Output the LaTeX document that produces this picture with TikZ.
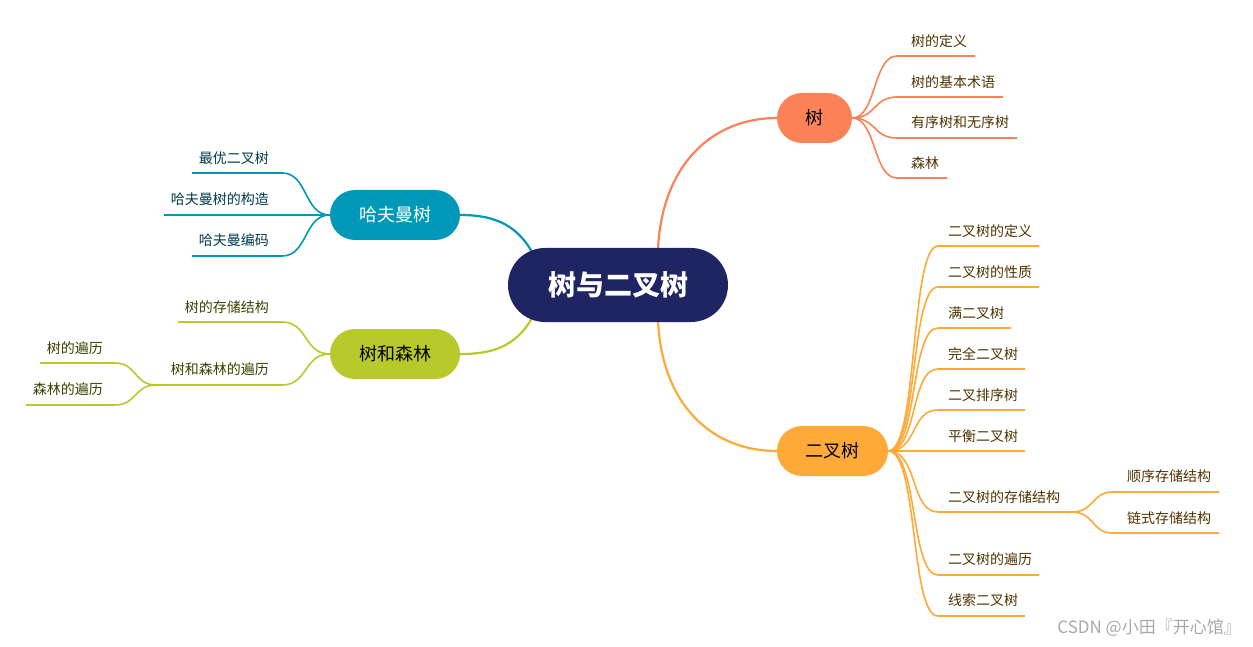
\documentclass[tikz,border=0pt]{standalone}
\usepackage{fontspec}
\newfontfamily\cjk{Noto Sans CJK SC}
\usetikzlibrary{backgrounds}
\definecolor{cHub}{HTML}{1F2463}
\definecolor{cTree}{HTML}{FA8256}
\definecolor{cBin}{HTML}{FFAA38}
\definecolor{cHuf}{HTML}{0098B8}
\definecolor{cFor}{HTML}{B7C92B}
\definecolor{tOr}{HTML}{4E3300}
\definecolor{tBl}{HTML}{003A4A}
\definecolor{tGr}{HTML}{3A4000}
\definecolor{cMark}{HTML}{A8A8A8}
\tikzset{
  hub/.style={fill=cHub, text=white, rounded corners=37pt, minimum width=220pt, minimum height=74pt, inner sep=0pt, font=\cjk\bfseries\fontsize{28}{30}\selectfont},
  topic/.style={rounded corners=25pt, minimum height=50pt, inner sep=0pt, font=\cjk\fontsize{18}{20}\selectfont},
  lfr/.style={anchor=west, inner sep=0pt, font=\cjk\fontsize{14}{16}\selectfont},
  lfl/.style={anchor=east, inner sep=0pt, font=\cjk\fontsize{14}{16}\selectfont},
  mainline/.style={line width=2.2pt},
  leafline/.style={line width=1.6pt},
}
\begin{document}
\begin{tikzpicture}[x=1pt,y=-1pt]
\useasboundingbox (0,0) rectangle (1253,647);
% nodes
\node[hub] (c) at (618,285) {树与二叉树};
\node[topic, fill=cTree, minimum width=75pt] (t) at (814.5,118) {树};
\node[topic, fill=cBin, minimum width=111pt] (b) at (832.5,451) {二叉树};
\node[topic, fill=cHuf, text=white, minimum width=130pt] (h) at (395,215) {哈夫曼树};
\node[topic, fill=cFor, minimum width=130pt] (f) at (395,354) {树和森林};
% hub ends
\coordinate (cT) at (658,249);
\coordinate (cB) at (658,321);
\coordinate (cH) at (532,252);
\coordinate (cF) at (532,318);
% tree leaves
\node[lfr, text=tOr] (t1) at (911,41) {树的定义};
\node[lfr, text=tOr] (t2) at (911,82) {树的基本术语};
\node[lfr, text=tOr] (t3) at (911,122) {有序树和无序树};
\node[lfr, text=tOr] (t4) at (911,163) {森林};
\coordinate (t1s) at (897,56); \coordinate (t1e) at (975,56);
\coordinate (t2s) at (897,97); \coordinate (t2e) at (1003,97);
\coordinate (t3s) at (897,138); \coordinate (t3e) at (1017,138);
\coordinate (t4s) at (897,178); \coordinate (t4e) at (947,178);
% binary tree leaves
\node[lfr, text=tOr] (b1) at (948,231) {二叉树的定义};
\node[lfr, text=tOr] (b2) at (948,272) {二叉树的性质};
\node[lfr, text=tOr] (b3) at (948,313) {满二叉树};
\node[lfr, text=tOr] (b4) at (948,354) {完全二叉树};
\node[lfr, text=tOr] (b5) at (948,395) {二叉排序树};
\node[lfr, text=tOr] (b6) at (948,436) {平衡二叉树};
\node[lfr, text=tOr] (b7) at (948,497) {二叉树的存储结构};
\node[lfr, text=tOr] (b8) at (948,559) {二叉树的遍历};
\node[lfr, text=tOr] (b9) at (948,600) {线索二叉树};
\node[lfr, text=tOr] (b7a) at (1127,476) {顺序存储结构};
\node[lfr, text=tOr] (b7b) at (1127,518) {链式存储结构};
\coordinate (b1s) at (938,246); \coordinate (b1e) at (1039,246);
\coordinate (b2s) at (938,287); \coordinate (b2e) at (1039,287);
\coordinate (b3s) at (938,328); \coordinate (b3e) at (1011,328);
\coordinate (b4s) at (938,369); \coordinate (b4e) at (1025,369);
\coordinate (b5s) at (938,410); \coordinate (b5e) at (1025,410);
\coordinate (b6e) at (1025,451);
\coordinate (b7s) at (938,512); \coordinate (b7e) at (1072,512);
\coordinate (b8s) at (938,575); \coordinate (b8e) at (1039,575);
\coordinate (b9s) at (938,616); \coordinate (b9e) at (1025,616);
\coordinate (b7as) at (1112,492); \coordinate (b7ae) at (1219,492);
\coordinate (b7bs) at (1112,533); \coordinate (b7be) at (1219,533);
% huffman leaves
\node[lfl, text=tBl] (h1) at (269,158) {最优二叉树};
\node[lfl, text=tBl] (h2) at (269,199) {哈夫曼树的构造};
\node[lfl, text=tBl] (h3) at (269,240) {哈夫曼编码};
\coordinate (h1s) at (282,173); \coordinate (h1e) at (192,173);
\coordinate (h2e) at (164,215);
\coordinate (h3s) at (282,256); \coordinate (h3e) at (192,256);
% forest leaves
\node[lfl, text=tGr] (f1) at (269,307) {树的存储结构};
\node[lfl, text=tGr] (f2) at (269,369) {树和森林的遍历};
\node[lfl, text=tGr] (f2a) at (103,348) {树的遍历};
\node[lfl, text=tGr] (f2b) at (103,389) {森林的遍历};
\coordinate (f1s) at (282,322); \coordinate (f1e) at (178,322);
\coordinate (f2s) at (282,385); \coordinate (f2e) at (156,385);
\coordinate (f2as) at (115,363); \coordinate (f2ae) at (40,363);
\coordinate (f2bs) at (115,405); \coordinate (f2be) at (26,405);
% watermark
\node[anchor=east, inner sep=0pt, text=cMark, font=\cjk\fontsize{17}{19}\selectfont] (wm) at (1241,628) {CSDN @小田『开心馆』};
% connectors
\begin{scope}[on background layer]
\draw[mainline, cTree] (cT) .. controls (662,165) and (712,118) .. (t.west);
\draw[mainline, cBin] (cB) .. controls (662,405) and (712,451) .. (b.west);
\draw[mainline, cHuf] (cH) .. controls (515,222) and (490,215) .. (h.east);
\draw[mainline, cFor] (cF) .. controls (515,348) and (490,354) .. (f.east);
\foreach \i in {1,2,3,4}
  \draw[leafline, cTree] (t.east) .. controls +(24,0) and +(-24,0) .. (t\i s) -- (t\i e);
\foreach \i in {1,2,3,4,5,7,8,9}
  \draw[leafline, cBin] (b.east) .. controls +(30,0) and +(-28,0) .. (b\i s) -- (b\i e);
\draw[leafline, cBin] (b.east) -- (b6e);
\draw[leafline, cBin] (b7e) .. controls +(22,0) and +(-20,0) .. (b7as) -- (b7ae);
\draw[leafline, cBin] (b7e) .. controls +(22,0) and +(-20,0) .. (b7bs) -- (b7be);
\draw[leafline, cHuf] (h.west) .. controls +(-26,0) and +(26,0) .. (h1s) -- (h1e);
\draw[leafline, cHuf] (h.west) -- (h2e);
\draw[leafline, cHuf] (h.west) .. controls +(-26,0) and +(26,0) .. (h3s) -- (h3e);
\draw[leafline, cFor] (f.west) .. controls +(-26,0) and +(26,0) .. (f1s) -- (f1e);
\draw[leafline, cFor] (f.west) .. controls +(-26,0) and +(26,0) .. (f2s) -- (f2e);
\draw[leafline, cFor] (f2e) .. controls +(-22,0) and +(22,0) .. (f2as) -- (f2ae);
\draw[leafline, cFor] (f2e) .. controls +(-22,0) and +(22,0) .. (f2bs) -- (f2be);
\end{scope}
\end{tikzpicture}
\end{document}
